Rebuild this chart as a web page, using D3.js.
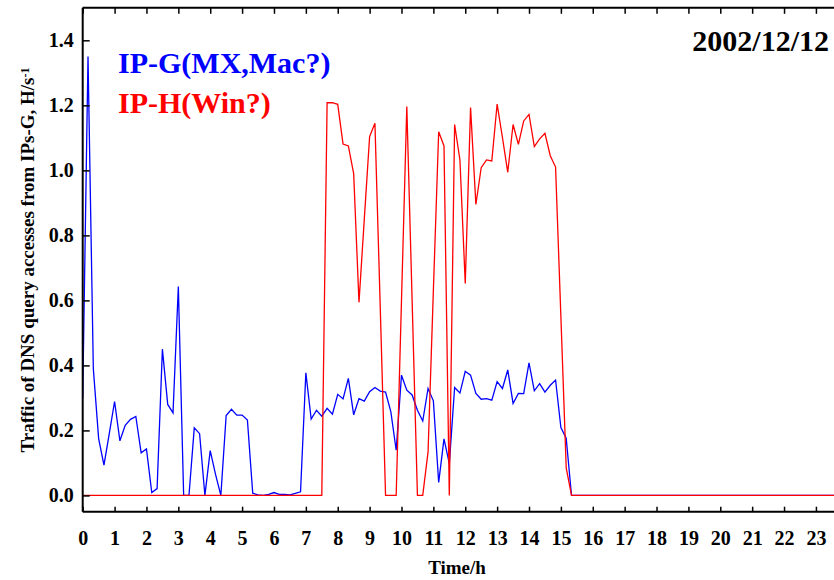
<!DOCTYPE html>
<html lang="en">
<head>
    <meta charset="UTF-8">
    <title>DNS query traffic 2002/12/12</title>
    <style>
        body {
            margin: 0;
            padding: 0;
            background-color: #fff;
        }

        #chart svg {
            display: block;
            font-family: "Liberation Serif", "Times New Roman", serif;
            font-weight: bold;
        }
    </style>
</head>
<body>

<div id="chart"></div>

<script src="https://d3js.org/d3.v7.min.js"></script>

<script>
    // samples every 10 minutes (1/6 h), index 0 = 0:00
    const stepHours = 1 / 6;

    const ipG = [
        0.30, 1.35, 0.39, 0.175, 0.093, 0.19, 0.289, 0.168, 0.216, 0.234, 0.243, 0.131,
        0.143, 0.009, 0.021, 0.45, 0.28, 0.254, 0.643, 0.0, 0.0, 0.208, 0.19, 0.0,
        0.138, 0.065, 0.0, 0.246, 0.265, 0.247, 0.247, 0.232, 0.007, 0.002, 0.0, 0.003,
        0.009, 0.003, 0.003, 0.002, 0.006, 0.011, 0.377, 0.235, 0.262, 0.244, 0.268, 0.25,
        0.311, 0.297, 0.36, 0.248, 0.298, 0.29, 0.319, 0.332, 0.321, 0.318, 0.257, 0.139,
        0.37, 0.324, 0.309, 0.262, 0.229, 0.329, 0.291, 0.04, 0.174, 0.098, 0.332, 0.315,
        0.382, 0.37, 0.314, 0.296, 0.298, 0.293, 0.35, 0.329, 0.386, 0.283, 0.314, 0.313,
        0.408, 0.322, 0.344, 0.318, 0.339, 0.355, 0.209, 0.176, 0, 0, 0, 0,
        0, 0, 0, 0, 0, 0, 0, 0, 0, 0, 0, 0,
        0, 0, 0, 0, 0, 0, 0, 0, 0, 0, 0, 0,
        0, 0, 0, 0, 0, 0, 0, 0, 0, 0, 0, 0,
        0, 0, 0, 0, 0, 0, 0, 0, 0, 0, 0, 0,
        0
    ];

    const ipH = [
        0, 0, 0, 0, 0, 0, 0, 0, 0, 0, 0, 0,
        0, 0, 0, 0, 0, 0, 0, 0, 0, 0, 0, 0,
        0, 0, 0, 0, 0, 0, 0, 0, 0, 0, 0, 0,
        0, 0, 0, 0, 0, 0, 0, 0, 0, 0, 1.208, 1.208,
        1.203, 1.081, 1.075, 0.99, 0.594, 0.85, 1.104, 1.145, 0.58, 0, 0, 0,
        0.6, 1.196, 0.6, 0, 0, 0.134, 0.63, 1.119, 1.075, 0, 1.141, 1.032,
        0.652, 1.193, 0.895, 1.008, 1.032, 1.029, 1.204, 1.101, 0.994, 1.141, 1.08, 1.152,
        1.172, 1.073, 1.097, 1.114, 1.045, 1.01, 0.55, 0.085, 0, 0, 0, 0,
        0, 0, 0, 0, 0, 0, 0, 0, 0, 0, 0, 0,
        0, 0, 0, 0, 0, 0, 0, 0, 0, 0, 0, 0,
        0, 0, 0, 0, 0, 0, 0, 0, 0, 0, 0, 0,
        0, 0, 0, 0, 0, 0, 0, 0, 0, 0, 0, 0,
        0
    ];

    const hourTicks = d3.range(0, 24);
    const valueTicks = [0, 0.2, 0.4, 0.6, 0.8, 1.0, 1.2, 1.4];

    const seriesNames = ["IP-G(MX,Mac?)", "IP-H(Win?)"];
    const dateLabel = "2002/12/12";

    const svgWidth = 834;
    const svgHeight = 580;
    const plot = { left: 82.7, right: 847.8, top: 7.8, bottom: 511.7 };

    const svg = d3.select("#chart")
        .append("svg")
        .attr("width", svgWidth)
        .attr("height", svgHeight);

    const x = d3.scaleLinear()
        .domain([0, 24])
        .range([plot.left, plot.right]);

    const y = d3.scaleLinear()
        .domain([-0.05, 1.5])
        .range([plot.bottom, plot.top]);

    const line = d3.line()
        .x((d, i) => x(i * stepHours))
        .y(d => y(d));

    // data lines (blue under red)
    svg.append("path")
        .datum(ipG)
        .attr("fill", "none")
        .attr("stroke", "#0000ff")
        .attr("stroke-width", 1.3)
        .attr("d", line);

    svg.append("path")
        .datum(ipH)
        .attr("fill", "none")
        .attr("stroke", "#ff0000")
        .attr("stroke-width", 1.3)
        .attr("d", line);

    // bottom axis, ticks pointing in
    const xAxis = svg.append("g")
        .attr("transform", "translate(0," + plot.bottom + ")")
        .call(d3.axisBottom(x).tickValues(hourTicks).tickSize(-5).tickPadding(19).tickFormat(d3.format("d")));

    // top frame ticks
    const xTop = svg.append("g")
        .attr("transform", "translate(0," + plot.top + ")")
        .call(d3.axisTop(x).tickValues(hourTicks).tickSize(-6).tickFormat(""));

    const yAxis = svg.append("g")
        .attr("transform", "translate(" + plot.left + ",0)")
        .call(d3.axisLeft(y).tickValues(valueTicks).tickSize(-7).tickPadding(9).tickFormat(d3.format(".1f")));

    [xAxis, xTop, yAxis].forEach(g => {
        g.select(".domain").remove();
        g.selectAll(".tick line").attr("stroke", "#000").attr("stroke-width", 1.5);
        g.selectAll(".tick text")
            .attr("fill", "#000")
            .style("font-family", "'Liberation Serif', 'Times New Roman', serif")
            .style("font-weight", "bold")
            .style("font-size", "20px");
    });

    // frame lines
    svg.append("line")
        .attr("x1", plot.left).attr("x2", plot.right)
        .attr("y1", plot.bottom).attr("y2", plot.bottom)
        .attr("stroke", "#000").attr("stroke-width", 2);
    svg.append("line")
        .attr("x1", plot.left).attr("x2", plot.right)
        .attr("y1", plot.top).attr("y2", plot.top)
        .attr("stroke", "#000").attr("stroke-width", 2);
    svg.append("line")
        .attr("x1", plot.left).attr("x2", plot.left)
        .attr("y1", plot.top).attr("y2", plot.bottom)
        .attr("stroke", "#000").attr("stroke-width", 2);

    // axis titles
    svg.append("text")
        .attr("x", 457)
        .attr("y", 574)
        .attr("text-anchor", "middle")
        .style("font-size", "19px")
        .text("Time/h");

    const yTitle = svg.append("text")
        .attr("transform", "translate(34,260) rotate(-90)")
        .attr("text-anchor", "middle")
        .style("font-size", "19px");
    yTitle.append("tspan").text("Traffic of DNS query accesses from IPs-G, H/s");
    yTitle.append("tspan")
        .attr("dy", "-0.45em")
        .style("font-size", "12px")
        .text("-1");

    // legend and date
    svg.append("text")
        .attr("x", 118)
        .attr("y", 73)
        .attr("fill", "#0000ff")
        .style("font-size", "30px")
        .text(seriesNames[0]);

    svg.append("text")
        .attr("x", 118)
        .attr("y", 113)
        .attr("fill", "#ff0000")
        .style("font-size", "30px")
        .text(seriesNames[1]);

    svg.append("text")
        .attr("x", 829)
        .attr("y", 51)
        .attr("text-anchor", "end")
        .style("font-size", "30px")
        .text(dateLabel);
</script>

</body>
</html>
